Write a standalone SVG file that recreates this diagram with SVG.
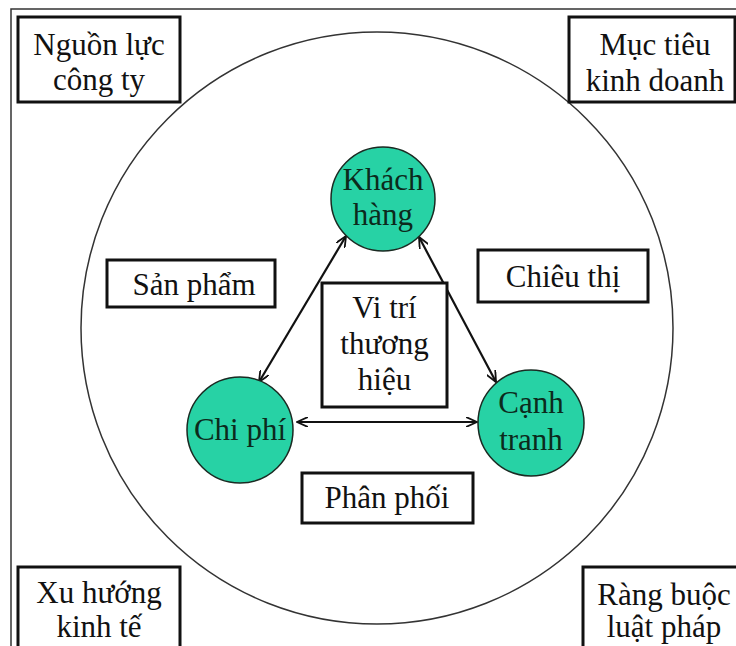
<svg xmlns="http://www.w3.org/2000/svg" width="736" height="646" viewBox="0 0 736 646">
<defs>
<style>
.t{font-family:"Liberation Serif","Times New Roman",serif;font-size:31px;fill:#111;text-anchor:middle}
.ct{fill:#0c2a1c}
.box{fill:#fff;stroke:#111;stroke-width:3}
.node{fill:#27d2a5;stroke:#1a2a22;stroke-width:1.5}
.conn{stroke:#111;stroke-width:2.2;fill:none;marker-start:url(#ah);marker-end:url(#ah)}
</style>
<marker id="ah" viewBox="0 0 12 10" refX="11" refY="5" markerWidth="12" markerHeight="10" markerUnits="userSpaceOnUse" orient="auto-start-reverse">
<path d="M0,0 L11,5 L0,10" fill="none" stroke="#111" stroke-width="1.8"/>
</marker>
</defs>
<rect width="736" height="646" fill="#fff"/>
<rect x="11" y="9" width="735" height="660" fill="none" stroke="#333" stroke-width="1.5"/>
<circle cx="377" cy="328" r="296" fill="none" stroke="#333" stroke-width="1.5"/>

<g id="connectors">
<line class="conn" x1="346" y1="236" x2="259" y2="382"/>
<line class="conn" x1="419" y1="237" x2="496" y2="382"/>
<line class="conn" x1="297" y1="422" x2="477" y2="422"/>
</g>

<g id="nguon-luc">
<rect class="box" x="18" y="17" width="162" height="85"/>
<text class="t" x="99" y="55">Nguồn lực</text>
<text class="t" x="99" y="90">công ty</text>
</g>
<g id="muc-tieu">
<rect class="box" x="569" y="17" width="166" height="85"/>
<text class="t" x="655" y="55">Mục tiêu</text>
<text class="t" x="655" y="91">kinh doanh</text>
</g>
<g id="xu-huong">
<rect class="box" x="18" y="567" width="162" height="90"/>
<text class="t" x="99" y="603">Xu hướng</text>
<text class="t" x="99" y="637">kinh tế</text>
</g>
<g id="rang-buoc">
<rect class="box" x="583" y="567" width="160" height="90"/>
<text class="t" x="664" y="605">Ràng buộc</text>
<text class="t" x="664" y="637">luật pháp</text>
</g>
<g id="san-pham">
<rect class="box" x="107" y="260" width="168" height="47"/>
<text class="t" x="194" y="295">Sản phẩm</text>
</g>
<g id="chieu-thi">
<rect class="box" x="478" y="250" width="170" height="52"/>
<text class="t" x="563" y="287">Chiêu thị</text>
</g>
<g id="vi-tri">
<rect class="box" x="322" y="283" width="125" height="124"/>
<text class="t" x="384.5" y="318">Vi trí</text>
<text class="t" x="384.5" y="354">thương</text>
<text class="t" x="384.5" y="390">hiệu</text>
</g>
<g id="phan-phoi">
<rect class="box" x="302" y="473" width="171" height="50"/>
<text class="t" x="387" y="508">Phân phối</text>
</g>
<g id="khach-hang">
<circle class="node" cx="383" cy="199" r="52"/>
<text class="t ct" x="383" y="190">Khách</text>
<text class="t ct" x="383" y="225">hàng</text>
</g>
<g id="chi-phi">
<circle class="node" cx="240" cy="430" r="53"/>
<text class="t ct" x="240" y="440">Chi phí</text>
</g>
<g id="canh-tranh">
<circle class="node" cx="531" cy="423" r="53"/>
<text class="t ct" x="531" y="413">Cạnh</text>
<text class="t ct" x="531" y="450">tranh</text>
</g>
</svg>
